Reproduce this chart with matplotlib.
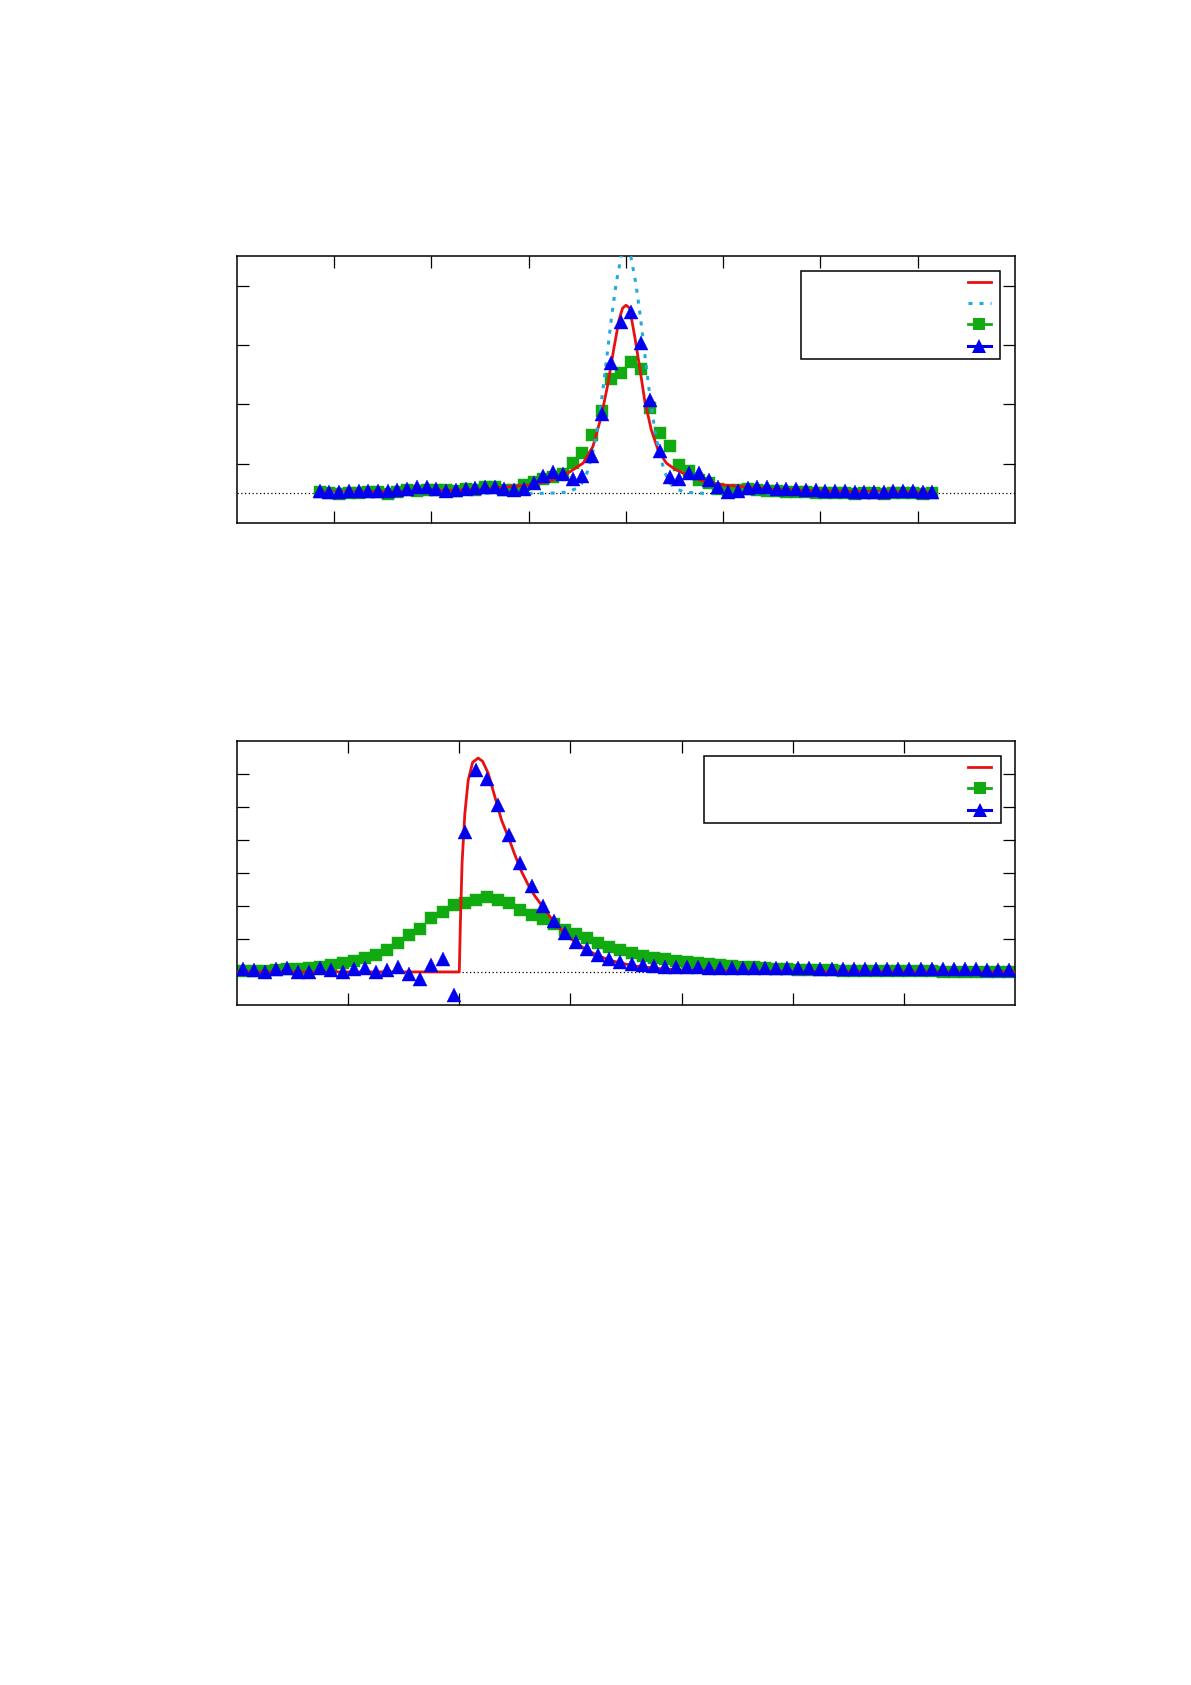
import numpy as np
import matplotlib
matplotlib.use('Agg')
import matplotlib.pyplot as plt
from matplotlib.lines import Line2D

# ---- upper panel: symmetric peak ----
top_x = np.round(np.arange(64) * 0.1 - 3.15, 2)
top_blue = [0.04, 0.03, 0.03, 0.04, 0.04, 0.04, 0.04, 0.04, 0.06, 0.08,
            0.10, 0.10, 0.08, 0.04, 0.06, 0.07,
            0.09, 0.11, 0.10, 0.07, 0.05, 0.08, 0.17, 0.29, 0.36, 0.32,
            0.25, 0.29, 0.63, 1.33, 2.19, 2.89, 3.06, 2.53, 1.57, 0.71,
            0.28, 0.24, 0.34, 0.34, 0.22, 0.10, 0.03,
            0.04, 0.09, 0.11, 0.10, 0.08, 0.07, 0.07, 0.05, 0.05, 0.04,
            0.04, 0.04, 0.03, 0.03, 0.03, 0.03, 0.04, 0.04, 0.04, 0.03, 0.02]
top_green = [0.03, 0.00, -0.01, 0.01, 0.00, 0.02, 0.02, -0.01, 0.03, 0.05,
             0.04, 0.06, 0.06, 0.05, 0.04, 0.07,
             0.05, 0.10, 0.10, 0.06, 0.05, 0.14, 0.19, 0.24, 0.27, 0.32,
             0.51, 0.68, 0.99, 1.39, 1.92, 2.03, 2.21, 2.10, 1.43, 1.02,
             0.79, 0.48, 0.37, 0.22, 0.17, 0.08, 0.05,
             0.06, 0.07, 0.05, 0.04, 0.04, 0.03, 0.03, 0.02, 0.01, 0.00,
             0.01, 0.00, -0.01, 0.00, 0.00, -0.01, 0.00, 0.01, 0.00, -0.01, 0.00]
top_red_x = [-3.15, -2.0, -1.5, -1.0, -0.8, -0.7, -0.58, -0.44, -0.34, -0.255,
             -0.185, -0.127, -0.072, -0.035, 0.0, 0.038, 0.09, 0.14, 0.192,
             0.26, 0.33, 0.415, 0.5, 0.585, 0.7, 0.8, 1.0, 1.5, 2.0, 3.15]
top_red_y = [0.02, 0.04, 0.07, 0.14, 0.20, 0.26, 0.36, 0.51, 0.79, 1.29,
             1.85, 2.42, 2.92, 3.12, 3.17, 3.12, 2.64, 2.13, 1.57,
             1.07, 0.73, 0.51, 0.41, 0.34, 0.26, 0.20, 0.14, 0.07, 0.04, 0.02]
top_cyan_x = [-3.15, -0.8, -0.7, -0.6, -0.5, -0.45, -0.4, -0.35, -0.3, -0.25,
              -0.2, -0.15, -0.1, -0.05, 0.0, 0.05, 0.1, 0.15, 0.2, 0.25,
              0.3, 0.35, 0.4, 0.45, 0.5, 0.6, 0.7, 0.8, 3.15]
top_cyan_y = [0.0, 0.0, 0.01, 0.02, 0.09, 0.18, 0.35, 0.63, 1.03, 1.58,
              2.25, 2.95, 3.55, 3.99, 4.15, 3.99, 3.55, 2.95, 2.25, 1.58,
              1.03, 0.63, 0.35, 0.18, 0.09, 0.02, 0.01, 0.0, 0.0]

# ---- lower panel: step onset ----
bot_x = np.round(np.arange(70) * 0.1 - 1.95, 2)
bot_blue = [0.08, 0.06, -0.01, 0.08, 0.11, -0.01, -0.01, 0.11, 0.06, -0.01,
            0.10, 0.12, 0.01, 0.05, 0.14, -0.07, -0.22, 0.21, 0.38, -0.70,
            4.25, 6.12, 5.85, 5.05, 4.14, 3.31, 2.61, 2.00, 1.53, 1.17,
            0.91, 0.69, 0.51, 0.38, 0.31, 0.24, 0.20, 0.17, 0.16, 0.15,
            0.14, 0.14, 0.13, 0.13, 0.13, 0.12, 0.12, 0.12, 0.11, 0.11,
            0.11, 0.11, 0.10, 0.10, 0.10, 0.10, 0.09, 0.09, 0.09, 0.09,
            0.09, 0.08, 0.08, 0.08, 0.08, 0.08, 0.08, 0.07, 0.07, 0.07]
bot_green = [0.03, 0.04, 0.04, 0.06, 0.08, 0.10, 0.13, 0.16, 0.20, 0.26,
             0.33, 0.41, 0.52, 0.67, 0.87, 1.12, 1.29, 1.63, 1.83, 2.03,
             2.08, 2.18, 2.28, 2.18, 2.08, 1.88, 1.73, 1.60, 1.45, 1.28,
             1.15, 1.02, 0.87, 0.75, 0.65, 0.57, 0.48, 0.43, 0.38, 0.34,
             0.30, 0.26, 0.23, 0.20, 0.18, 0.16, 0.14, 0.11, 0.09, 0.08,
             0.07, 0.06, 0.05, 0.05, 0.04, 0.04, 0.03, 0.03, 0.03, 0.02,
             0.02, 0.02, 0.02, 0.01, 0.01, 0.01, 0.01, 0.01, 0.01, 0.01]
bot_red_x = [-2.0, 0.0, 0.01, 0.025, 0.05, 0.08, 0.12, 0.17, 0.21, 0.26,
             0.32, 0.38, 0.44, 0.5, 0.56, 0.62, 0.68, 0.75, 0.85, 0.95,
             1.05, 1.15, 1.25, 1.35, 1.45, 1.6, 1.8, 2.0, 2.5, 3.0, 5.0]
bot_red_y = [0.0, 0.0, 1.5, 3.3, 4.8, 5.8, 6.35, 6.48, 6.38, 6.02,
             5.31, 4.6, 4.1, 3.55, 3.04, 2.64, 2.3, 1.98, 1.52, 1.16,
             0.88, 0.66, 0.49, 0.36, 0.27, 0.17, 0.10, 0.06, 0.02, 0.01, 0.0]

RED, CYAN, GREEN, BLUE = '#e81010', '#22aadd', '#11aa11', '#0000ee'
cyan_ls = (0, (1.3, 2.3))
SQ_MS, TRI_MS = 9.0, 10.0

fig = plt.figure(figsize=(11.91, 16.85), dpi=100)
ax1 = fig.add_axes([0.199, 0.6896, 0.6532, 0.1585])
ax2 = fig.add_axes([0.199, 0.4036, 0.6532, 0.1567])

sq = dict(marker='s', ms=SQ_MS, ls='none', color=GREEN, mec=GREEN, mew=0.3)
tri = dict(marker='^', ms=TRI_MS, ls='none', color=BLUE, mec=BLUE, mew=0.3)

ax1.axhline(0, color='black', lw=0.9, ls=(0, (1, 2)), zorder=1)
ax1.plot(top_x, top_green, zorder=2, **sq)
ax1.plot(top_red_x, top_red_y, color=RED, lw=2.0, zorder=3)
ax1.plot(top_cyan_x, top_cyan_y, color=CYAN, lw=2.2, ls=cyan_ls, zorder=3)
ax1.plot(top_x, top_blue, zorder=4, **tri)
ax1.set_xlim(-4, 4)
ax1.set_ylim(-0.5, 4.0)
ax1.set_xticks([-3, -2, -1, 0, 1, 2, 3])
ax1.set_yticks([0.5, 1.5, 2.5, 3.5])

ax2.axhline(0, color='black', lw=0.9, ls=(0, (1, 2)), zorder=1)
ax2.plot(bot_x, bot_green, zorder=2, **sq)
ax2.plot(bot_red_x, bot_red_y, color=RED, lw=2.0, zorder=3)
ax2.plot(bot_x, bot_blue, zorder=4, **tri)
ax2.set_xlim(-2, 5)
ax2.set_ylim(-1, 7)
ax2.set_xticks([-1, 0, 1, 2, 3, 4])
ax2.set_yticks([1, 2, 3, 4, 5, 6])

for ax in (ax1, ax2):
    for s in ax.spines.values():
        s.set_linewidth(1.1)
    ax.tick_params(direction='in', length=8.4, width=0.9, top=True, right=True,
                   labelbottom=False, labelleft=False)

h_red = Line2D([], [], color=RED, lw=2.0)
h_cyan = Line2D([], [], color=CYAN, lw=2.2, ls=cyan_ls)
h_green = Line2D([], [], color=GREEN, lw=2.0, marker='s', ms=SQ_MS, mew=0)
h_blue = Line2D([], [], color=BLUE, lw=2.2, marker='^', ms=TRI_MS, mew=0)

leg_kw = dict(loc='upper right', fontsize=2, markerfirst=False, handlelength=8.3,
              handleheight=3.0, labelspacing=5.4, borderpad=3.3, borderaxespad=0,
              fancybox=False, framealpha=1, edgecolor='black')
lg1 = ax1.legend([h_red, h_cyan, h_green, h_blue], [''] * 4,
                 bbox_to_anchor=(0.981, 0.943), handletextpad=56.7, **leg_kw)
lg2 = ax2.legend([h_red, h_green, h_blue], [''] * 3,
                 bbox_to_anchor=(0.9815, 0.942), handletextpad=92.0, **leg_kw)
for lg in (lg1, lg2):
    lg.get_frame().set_linewidth(1.1)
    lg.set_zorder(10)

fig.savefig('out.png', dpi=100)
